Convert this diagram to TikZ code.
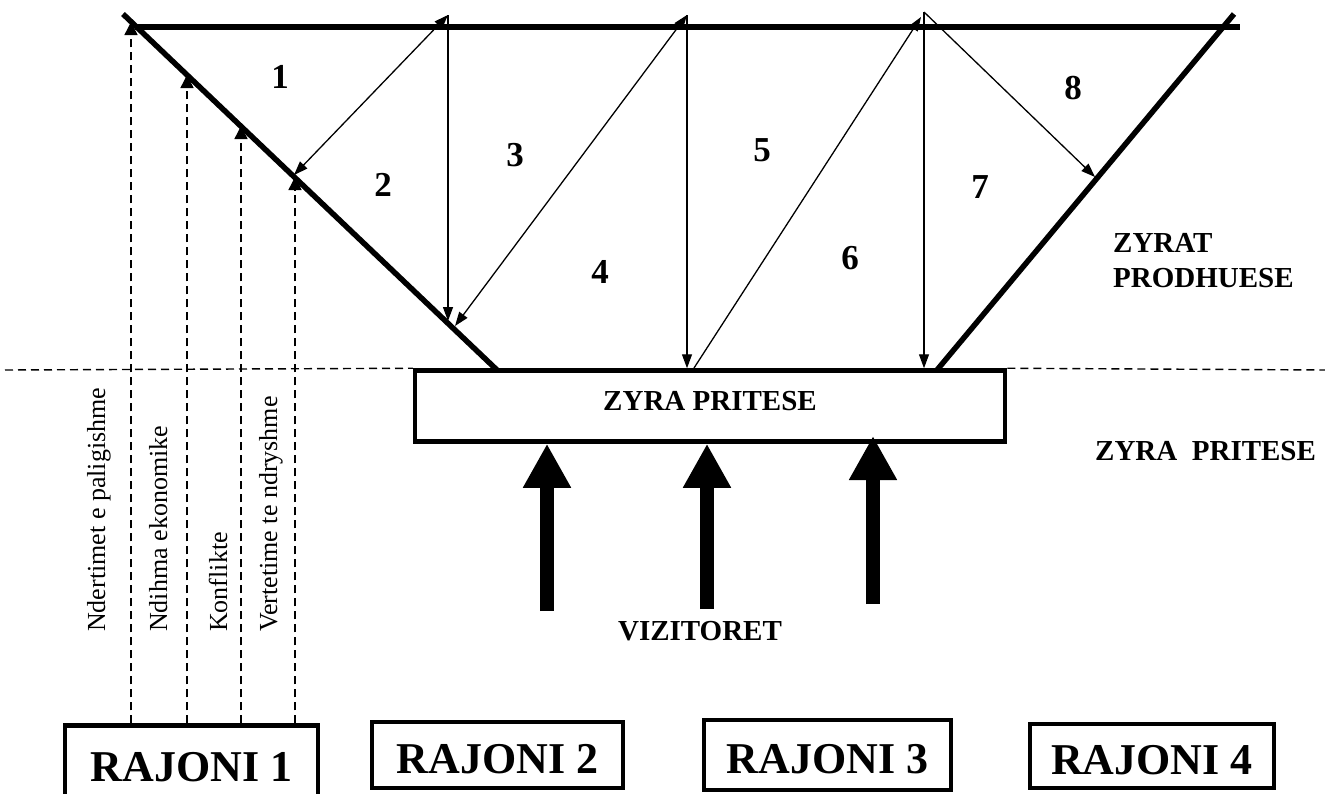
\documentclass[tikz,border=0pt]{standalone}
\usepackage{fontspec}
\setmainfont{Liberation Serif}
\usetikzlibrary{arrows.meta}
\tikzstyle{edge}=[line width=5.5pt]
\tikzstyle{flow}=[line width=1.3pt,-{Triangle[length=14pt,width=10pt]}]
\tikzstyle{twoway}=[line width=1.3pt,
  {Triangle[length=14pt,width=10pt]}-{Triangle[length=14pt,width=10pt]}]
\tikzstyle{feed}=[line width=1.4pt,dash pattern=on 8pt off 5pt,
  -{Triangle[length=13pt,width=13pt]}]
\tikzstyle{border}=[line width=1.4pt,dash pattern=on 8pt off 5pt]
\tikzstyle{visit}=[line width=14pt,-{Triangle[length=44pt,width=45pt]}]
\tikzstyle{office}=[draw=black,line width=4.5pt,fill=white,minimum width=590pt,
  minimum height=71pt,text depth=10pt,font=\bfseries\fontsize{29}{35}\selectfont]
\tikzstyle{region}=[draw=black,line width=4.5pt,fill=white,text height=37pt,
  font=\bfseries\fontsize{44}{50}\selectfont]
\tikzstyle{num}=[font=\bfseries\fontsize{35}{40}\selectfont]
\tikzstyle{topic}=[rotate=90,anchor=base west,inner sep=0pt,
  font=\fontsize{26}{30}\selectfont]
\tikzstyle{caption}=[inner sep=0pt,align=left,
  font=\bfseries\fontsize{29}{35}\selectfont]

\begin{document}
\begin{tikzpicture}[x=1pt,y=-1pt]
    \path [use as bounding box,clip] (0,0) rectangle (1325,793);
    \fill [white] (0,0) rectangle (1325,793);
    \coordinate (tl) at (123,14);
    \coordinate (bl) at (497,370);
    \coordinate (tr) at (1234,14);
    \coordinate (br) at (937,370);
    \coordinate (ta) at (135,27);
    \coordinate (tb) at (1240,27);
    \draw [style=edge] (tl) to (bl);
    \draw [style=edge] (tr) to (br);
    \draw [style=edge] (ta) to (tb);
    \node [style=office] (desk) at (710,406) {ZYRA PRITESE};
    \node [style=region,minimum width=253pt,minimum height=75pt] (r1) at (191.5,763) {RAJONI 1};
    \node [style=region,minimum width=251pt,minimum height=66pt] (r2) at (497.5,755) {RAJONI 2};
    \node [style=region,minimum width=247pt,minimum height=70pt] (r3) at (827.5,755) {RAJONI 3};
    \node [style=region,minimum width=244pt,minimum height=64pt] (r4) at (1152,756) {RAJONI 4};
    \coordinate (hl) at (5,370);
    \coordinate (hr) at (1325,370);
    \draw [style=border] (hl) to (desk.north west);
    \draw [style=border] (desk.north east) to (hr);
    \coordinate (s1) at (448,15);
    \coordinate (s2) at (687,15);
    \coordinate (s3) at (924,12);
    \coordinate (e1) at (294,175);
    \coordinate (e2) at (448,321);
    \coordinate (e3) at (455,326);
    \coordinate (e4) at (1095,177);
    \coordinate (e5) at (694,368);
    \coordinate (e6) at (921,17);
    \draw [style=twoway] (s1) to (e1);
    \draw [style=flow] (s1) to (e2);
    \draw [style=twoway] (s2) to (e3);
    \draw [style=flow] (s2) to (s2 |- desk.north);
    \draw [style=flow] (e5) to (e6);
    \draw [style=flow] (s3) to (s3 |- desk.north);
    \draw [style=flow] (s3) to (e4);
    \coordinate (f1) at (131,22);
    \coordinate (f2) at (187,75);
    \coordinate (f3) at (241,126);
    \coordinate (f4) at (295,177);
    \draw [style=feed] (f1 |- r1.north) to (f1);
    \draw [style=feed] (f2 |- r1.north) to (f2);
    \draw [style=feed] (f3 |- r1.north) to (f3);
    \draw [style=feed] (f4 |- r1.north) to (f4);
    \node [style=topic] (t1) at (105,632) {Ndertimet e paligishme};
    \node [style=topic] (t2) at (167,632) {Ndihma ekonomike};
    \node [style=topic] (t3) at (227,632) {Konflikte};
    \node [style=topic] (t4) at (277,632) {Vertetime te ndryshme};
    \coordinate (v1) at (547,611);
    \coordinate (v2) at (707,609);
    \coordinate (v3) at (873,604);
    \coordinate (w3) at (873,436);
    \draw [style=visit] (v1) to (v1 |- desk.south);
    \draw [style=visit] (v2) to (v2 |- desk.south);
    \draw [style=visit] (v3) to (w3);
    \node [style=caption] (vis) at (700,631) {VIZITORET};
    \node [style=caption,anchor=west] (prod) at (1113,261) {ZYRAT\\PRODHUESE};
    \node [style=caption,anchor=west] (recv) at (1095,451) {ZYRA\ \ PRITESE};
    \node [style=num] (n1) at (280,77) {1};
    \node [style=num] (n2) at (383,185) {2};
    \node [style=num] (n3) at (515,155) {3};
    \node [style=num] (n4) at (600,272) {4};
    \node [style=num] (n5) at (762,150) {5};
    \node [style=num] (n6) at (850,258) {6};
    \node [style=num] (n7) at (980,187) {7};
    \node [style=num] (n8) at (1073,88) {8};
\end{tikzpicture}
\end{document}
